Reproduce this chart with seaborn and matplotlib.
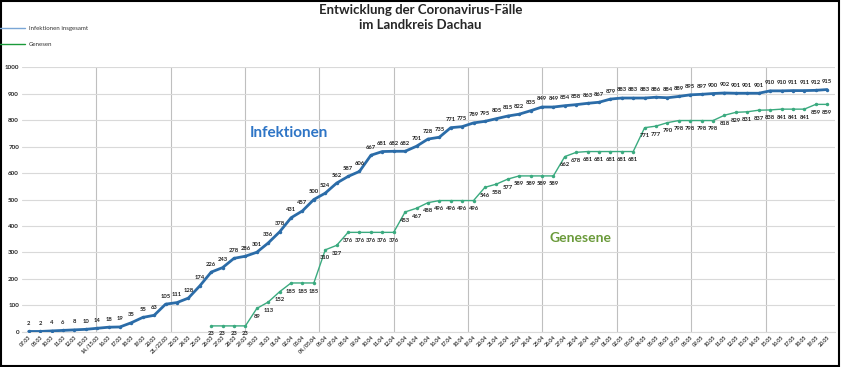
import matplotlib
matplotlib.use('Agg')
import matplotlib.pyplot as plt
import seaborn as sns
import pandas as pd

dates = ['07.03', '08.03', '10.03', '11.03', '12.03', '13.03', '14./15.03', '16.03', '17.03',
         '18.03', '19.03', '20.03', '21./22.03', '23.03', '24.03', '25.03', '26.03', '27.03',
         '28.03', '29.03', '30.03', '31.03', '01.04', '02.04', '03.04', '04./05.04', '06.04',
         '07.04', '08.04', '09.04', '10.04', '11.04', '12.04', '13.04', '14.04', '15.04',
         '16.04', '17.04', '18.04', '19.04', '20.04', '21.04', '22.04', '23.04', '24.04',
         '25.04', '26.04', '27.04', '28.04', '29.04', '30.04', '01.05', '02.05', '03.05',
         '04.05', '05.05', '06.05', '07.05', '08.05', '09.05', '10.05', '11.05', '12.05',
         '13.05', '14.05', '15.05', '16.05', '17.05', '18.05', '19.05', '20.05']

infektionen = [2, 2, 4, 6, 8, 10, 14, 18, 19, 35, 55, 63, 105, 111, 128, 174, 226, 243, 278,
               286, 301, 336, 378, 431, 457, 500, 524, 562, 587, 606, 667, 681, 682, 682, 701,
               728, 735, 771, 775, 789, 795, 805, 815, 822, 835, 849, 849, 854, 858, 863, 867,
               879, 883, 883, 883, 886, 884, 889, 895, 897, 900, 902, 901, 901, 901, 910, 910,
               911, 911, 912, 915]

# Genesene erst ab 26.03.
genesen_start = '26.03'
genesen = [23, 23, 23, 23, 89, 113, 152, 185, 185, 185, 310, 327, 376, 376, 376, 376, 376,
           453, 467, 488, 496, 496, 496, 496, 546, 558, 577, 589, 589, 589, 589, 662, 678,
           681, 681, 681, 681, 681, 771, 777, 790, 798, 798, 798, 798, 818, 829, 831, 837,
           838, 841, 841, 841, 859, 859]

blue = '#2b6ca8'
green = '#3aaa7f'

i0 = dates.index(genesen_start)
df_inf = pd.DataFrame({'pos': range(len(dates)), 'wert': infektionen})
df_gen = pd.DataFrame({'pos': range(i0, i0 + len(genesen)), 'wert': genesen})

sns.set_style('white')
plt.rcParams['font.family'] = ['Lato', 'DejaVu Sans']

fig = plt.figure(figsize=(8.41, 3.67), dpi=100)
ax = fig.add_axes([0.026, 0.0954, 0.967, 0.722])

sns.lineplot(data=df_inf, x='pos', y='wert', ax=ax, color=blue, linewidth=2,
             marker='o', markersize=2.5, markeredgewidth=0, zorder=3)
sns.lineplot(data=df_gen, x='pos', y='wert', ax=ax, color=green, linewidth=1,
             marker='o', markersize=2.5, markeredgewidth=0, zorder=3)

for x, y in zip(df_inf['pos'], df_inf['wert']):
    ax.annotate(str(y), (x, y), xytext=(0, 4), textcoords='offset points',
                ha='center', va='bottom', fontsize=4.2, fontweight='bold', color='#222222')
for x, y in zip(df_gen['pos'], df_gen['wert']):
    ax.annotate(str(y), (x, y), xytext=(0, -4), textcoords='offset points',
                ha='center', va='top', fontsize=4.2, fontweight='bold', color='#222222')

ax.set_xlim(-0.6, 70.7)
ax.set_ylim(0, 1000)
ax.set_yticks(range(0, 1001, 100))
ax.set_yticklabels([str(v) for v in range(0, 1001, 100)], fontsize=4.5, fontweight='bold')
ax.set_xticks(range(len(dates)))
ax.set_xticklabels(dates, rotation=45, ha='right', rotation_mode='anchor', fontsize=3.8,
                   fontweight='bold', color='#333333')
ax.tick_params(axis='both', length=0, pad=2)
ax.set_xlabel('')
ax.set_ylabel('')

ax.grid(axis='y', color='#d9d9d9', linewidth=0.8)
for k in range(1, 11):
    ax.axvline(-0.6 + k * 6.52, color='#bfbfbf', linewidth=0.8, zorder=0)
for s in ['top', 'right', 'left']:
    ax.spines[s].set_visible(False)
ax.spines['bottom'].set_color('#d9d9d9')

ax.text(0.28, 0.75, 'Infektionen', transform=ax.transAxes, fontsize=11,
        fontweight='bold', color='#2e75c6', va='center')
ax.text(0.649, 0.355, 'Genesene', transform=ax.transAxes, fontsize=10,
        fontweight='bold', color='#6a9a3a', va='center')

fig.text(0.5, 0.99, 'Entwicklung der Coronavirus-Fälle\nim Landkreis Dachau', ha='center',
         va='top', fontsize=9.5, fontweight='bold', linespacing=1.3)

# Legende oben links
fig.add_artist(plt.Line2D([0.0, 0.03], [0.923, 0.923], color='#7aa6d6', linewidth=1))
fig.text(0.034, 0.923, 'Infektionen insgesamt', fontsize=4.4, va='center', color='#333333')
fig.add_artist(plt.Line2D([0.0, 0.03], [0.879, 0.879], color='#1a9a3a', linewidth=1))
fig.text(0.034, 0.879, 'Genesen', fontsize=4.4, va='center', color='#333333')

fig.add_artist(plt.Rectangle((0.001, 0.002), 0.997, 0.996, fill=False,
                             edgecolor='black', linewidth=1.5, transform=fig.transFigure))

fig.savefig('out.png', dpi=100)
